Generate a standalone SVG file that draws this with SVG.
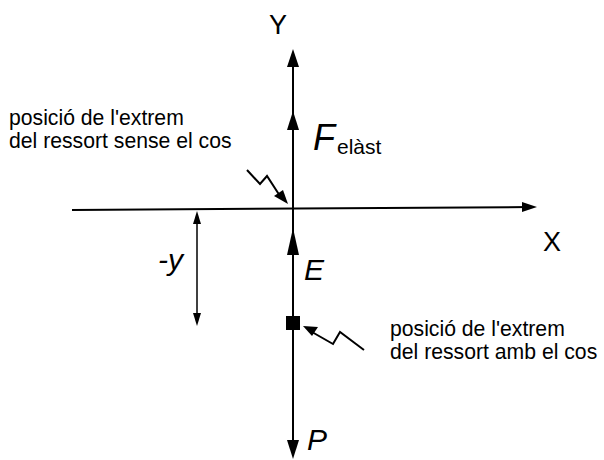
<svg xmlns="http://www.w3.org/2000/svg" width="604" height="460" viewBox="0 0 604 460">
<style>
.ax{stroke:#000;stroke-width:2;fill:none}
.th{stroke:#000;stroke-width:1.5;fill:none}
.hd{fill:#000;stroke:none}
.lbl{font-family:"Liberation Sans",Arial,sans-serif;fill:#000}
.it{font-family:"Liberation Sans",Arial,sans-serif;font-style:italic;fill:#000}
</style>
<rect width="604" height="460" fill="#fff"/>
<g id="connectors">
<line class="ax" x1="72" y1="210" x2="530" y2="207"/>
<polygon class="hd" points="537,207 522,202 522,212"/>
<line class="ax" x1="293" y1="58" x2="293" y2="452"/>
<polygon class="hd" points="293,49 287,67 299,67"/>
<polygon class="hd" points="293,111 287,130 299,130"/>
<polygon class="hd" points="293,228 287,255 299,255"/>
<polygon class="hd" points="293,459 287,440 299,440"/>
<line class="th" x1="197" y1="215" x2="197" y2="322"/>
<polygon class="hd" points="197,211 193,224 201,224"/>
<polygon class="hd" points="197,326 193,313 201,313"/>
<polyline class="ax" points="247,170 260,184 267,176 280,196"/>
<polygon class="hd" points="288,204 274,196 283,190"/>
<polyline class="ax" points="364,350 340,332 333,344 312,332"/>
<polygon class="hd" points="303,326 318,327 312,336"/>
</g>
<g id="node-square"><rect x="286" y="316" width="14" height="14" fill="#000"/></g>
<g id="label-Y"><text class="lbl" x="269" y="34" font-size="27">Y</text></g>
<g id="label-X"><text class="lbl" x="543" y="251" font-size="27">X</text></g>
<g id="label-F"><text class="it" x="313" y="150" font-size="36">F</text><text class="lbl" x="337" y="154" font-size="21">elàst</text></g>
<g id="label-E"><text class="it" x="304" y="280" font-size="30">E</text></g>
<g id="label-P"><text class="it" x="307" y="450" font-size="30">P</text></g>
<g id="label-y"><text class="it" x="158" y="270" font-size="30">-y</text></g>
<g id="note-top"><text class="lbl" font-size="21.2"><tspan x="9" y="125">posició de l'extrem</tspan><tspan x="9" y="148">del ressort sense el cos</tspan></text></g>
<g id="note-bottom"><text class="lbl" font-size="21.2"><tspan x="390" y="336">posició de l'extrem</tspan><tspan x="390" y="359">del ressort amb el cos</tspan></text></g>
</svg>
